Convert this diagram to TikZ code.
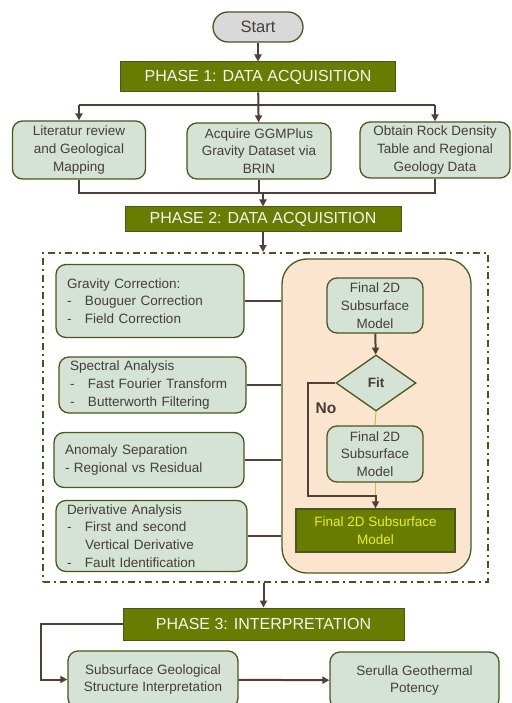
\documentclass[tikz,border=0pt]{standalone}
\usepackage{fontspec}
\setmainfont{Liberation Sans}
\usetikzlibrary{shapes.geometric, arrows.meta, positioning}
\definecolor{olive}{RGB}{104,125,0}
\definecolor{edge}{RGB}{72,88,28}
\definecolor{sage}{RGB}{213,226,214}
\definecolor{peach}{RGB}{251,229,207}
\definecolor{wire}{RGB}{80,64,54}
\definecolor{txt}{RGB}{68,62,56}
\definecolor{lime}{RGB}{180,198,70}
\definecolor{finaltxt}{RGB}{232,240,20}
\begin{document}
\begin{tikzpicture}[x=1pt, y=-1pt, >={Triangle[length=7pt,width=7pt]},
  every node/.style={text=txt, font=\fontsize{13.5}{17.7}\selectfont},
  box/.style={draw=edge, line width=1.3pt, fill=sage, rounded corners=10pt, align=center, inner sep=0pt},
  listbox/.style={box, align=left, text width=#1},
  phase/.style={draw=edge, line width=1pt, fill=olive, text=white!94!olive, inner sep=0pt, font=\fontsize{16}{19}\selectfont},
  wire/.style={draw=wire, line width=2pt},
  arr/.style={wire, ->},
  thin/.style={draw=lime, line width=1pt}]
  \clip (0,0) rectangle (511,703);
  \node[draw=edge, line width=1.3pt, fill=black!15, rounded corners=15pt, minimum width=90pt, minimum height=30pt, font=\fontsize{16.5}{19}\selectfont] (start) at (258,27) {Start};
  \node[phase, minimum width=275pt, minimum height=30pt] (ph1) at (258,77) {PHASE 1: DATA ACQUISITION};
  \node[box, minimum width=133pt, minimum height=58pt] (lit) at (79,150) {Literatur review\\and Geological\\Mapping};
  \node[box, minimum width=144pt, minimum height=56pt] (ggm) at (259,151) {Acquire GGMPlus\\Gravity Dataset via\\BRIN};
  \node[box, minimum width=150pt, minimum height=56pt] (rock) at (435,150) {Obtain Rock Density\\Table and Regional\\Geology Data};
  \node[phase, minimum width=276pt, minimum height=24pt] (ph2) at (263,219) {PHASE 2: DATA ACQUISITION};

  \node[draw=edge, line width=2pt, dash pattern=on 7pt off 4pt on 2pt off 4pt, minimum width=445pt, minimum height=329pt] (proc) at (265.5,417.5) {};
  \node[listbox=166pt, minimum width=188pt, minimum height=73pt] (grav) at (150,301) {Gravity Correction:\\\makebox[18pt][l]{-}Bouguer Correction\\\makebox[18pt][l]{-}Field Correction};
  \node[listbox=165pt, minimum width=187pt, minimum height=56pt] (spec) at (152.5,385) {Spectral Analysis\\\makebox[18pt][l]{-}Fast Fourier Transform\\\makebox[18pt][l]{-}Butterworth Filtering};
  \node[listbox=168pt, minimum width=190pt, minimum height=55pt] (anom) at (149,460) {Anomaly Separation\\- Regional vs Residual};
  \node[listbox=169pt, minimum width=191pt, minimum height=71pt] (deriv) at (151.5,536) {Derivative Analysis\\\makebox[18pt][l]{-}First and second\\\makebox[18pt][l]{}Vertical Derivative\\\makebox[18pt][l]{-}Fault Identification};

  \node[draw=edge, line width=1.3pt, fill=peach, rounded corners=25pt, minimum width=189pt, minimum height=314pt] (panel) at (376.5,416) {};
  \node[box, minimum width=96pt, minimum height=55pt] (m1) at (375,305.5) {Final 2D\\Subsurface\\Model};
  \node[draw=edge, line width=1.3pt, fill=sage, shape=diamond, inner sep=0pt, minimum width=80pt, minimum height=56pt, font=\fontsize{13.5}{16}\selectfont\bfseries] (fit) at (376,383) {Fit};
  \node[box, minimum width=96pt, minimum height=56pt] (m2) at (375,454) {Final 2D\\Subsurface\\Model};
  \node[draw=edge, line width=1.3pt, fill=olive, text=finaltxt, align=center, inner sep=0pt, minimum width=159pt, minimum height=43pt] (final) at (375.5,530.5) {Final 2D Subsurface\\Model};
  \node[font=\fontsize{15.5}{18}\selectfont\bfseries] (no) at (326,408) {No};

  \node[phase, minimum width=281pt, minimum height=32pt] (ph3) at (263.5,624) {PHASE 3: INTERPRETATION};
  \node[box, minimum width=170pt, minimum height=57pt] (sgi) at (153,679.5) {Subsurface Geological\\Structure Interpretation};
  \node[box, minimum width=169pt, minimum height=57pt] (ser) at (414.5,680.5) {Serulla Geothermal\\Potency};

  \coordinate (j1) at (258,105);
  \coordinate (j2) at (263,193);
  \coordinate (lp) at (308,496);
  \draw[arr] (start) -- (ph1);
  \draw[wire] (lit.north |- j1) -- (rock.north |- j1);
  \draw[arr] (ph1) -- (ggm);
  \draw[arr] (lit.north |- j1) -- (lit.north);
  \draw[arr] (rock.north |- j1) -- (rock.north);
  \draw[wire] (lit.south) |- (j2);
  \draw[wire] (rock.south) |- (j2);
  \draw[wire] (ggm.south) -- (ggm.south |- j2);
  \draw[arr] (j2) -- (ph2);
  \draw[arr] (ph2) -- (ph2.south |- proc.north);
  \draw[wire] (grav.east) -- (grav.east -| panel.west);
  \draw[wire] (spec.east) -- (spec.east -| panel.west);
  \draw[wire] (anom.east) -- (anom.east -| panel.west);
  \draw[wire] (deriv.east) -- (deriv.east -| panel.west);
  \draw[arr] (m1) -- (fit);
  \draw[thin] (fit.south) -- (m2.north);
  \draw[thin] (m2.south) -- (m2.south |- lp);
  \draw[arr] (fit.west) -| (lp) -- (lp -| final.north) -- (final.north);
  \draw[arr] (proc.south -| ph3.north) -- (ph3.north);
  \draw[arr] (ph3.west) -- ++(-82,0) |- (sgi.west);
  \draw[arr] (sgi) -- (ser);
\end{tikzpicture}
\end{document}
